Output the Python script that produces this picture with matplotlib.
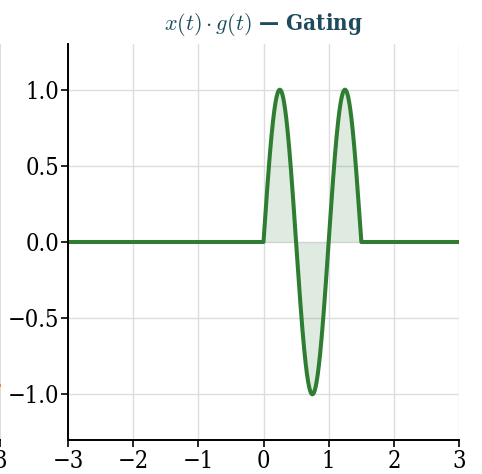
import numpy as np
import matplotlib
matplotlib.use("Agg")
import matplotlib.pyplot as plt

plt.rcParams["font.family"] = ["DejaVu Serif"]
plt.rcParams["font.stretch"] = "condensed"
plt.rcParams["mathtext.fontset"] = "cm"
plt.rcParams["axes.unicode_minus"] = True

# signal parameters: unit-amplitude sine gated by a rectangular window
freq_hz = 1.0
gate_start = 0.0
gate_end = 1.5
t_range = (-3.0, 3.0)
x_ticks = [-3, -2, -1, 0, 1, 2, 3]
y_ticks = [-1.0, -0.5, 0.0, 0.5, 1.0]

t = np.linspace(t_range[0], t_range[1], 3001)
x = np.sin(2 * np.pi * freq_hz * t)
g = ((t >= gate_start) & (t <= gate_end)).astype(float)
y = x * g

line_color = "#2e7d32"
title_color = "#1b4b5c"

W, H = 482, 474
fig = plt.figure(figsize=(W / 100, H / 100), dpi=100)


def style_axes(ax, xlabels, ylabels):
    ax.set_xlim(*t_range)
    ax.set_ylim(-1.3, 1.3)
    ax.set_xticks(x_ticks)
    ax.set_xticklabels(xlabels)
    ax.set_yticks(y_ticks)
    ax.set_yticklabels(ylabels)
    ax.grid(True, color="#dddddd", linewidth=1.0)
    ax.set_axisbelow(True)
    for s in ("top", "right"):
        ax.spines[s].set_visible(False)
    for s in ("left", "bottom"):
        ax.spines[s].set_linewidth(1.4)
        ax.spines[s].set_color("black")
    ax.tick_params(axis="both", direction="out", length=5, width=1.2,
                   labelsize=17, colors="black")
    ax.tick_params(axis="y", pad=1)
    ax.tick_params(axis="x", pad=2)


xlabels = [f"{v}".replace("-", "\u2212") for v in x_ticks]
ylabels = [f"{v:.1f}".replace("-", "\u2212") for v in y_ticks]

# neighbouring panel, mostly off the left edge
ax0 = fig.add_axes([0.5 / W - 0.81, 1 - 440 / H, 0.81, (440 - 44) / H])
style_axes(ax0, [""] * (len(x_ticks) - 1) + [xlabels[-1]], [""] * len(y_ticks))
ax0.plot([2.9, 3.0], [-0.94, -0.94], color="#e8803a", linewidth=2.0)

ax = fig.add_axes([68 / W, 1 - 440 / H, (459 - 68) / W, (440 - 44) / H])
style_axes(ax, xlabels, ylabels)
ax.fill_between(t, 0, y, where=g > 0, color=line_color, alpha=0.15,
                linewidth=0, interpolate=True)
ax.plot(t, y, color=line_color, linewidth=2.9, solid_joinstyle="round")

ax.set_title(r"$x(t)\cdot g(t)$ — Gating", color=title_color,
             fontsize=16, fontweight="bold", pad=10)

fig.savefig("out.png", dpi=100)
